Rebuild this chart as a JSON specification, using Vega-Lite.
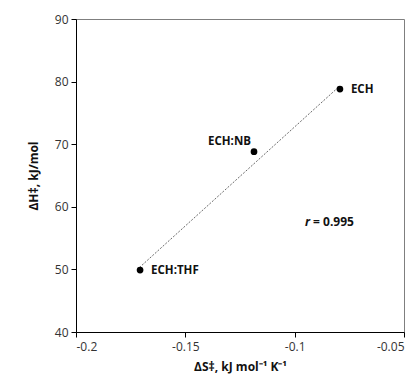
{
  "$schema": "https://vega.github.io/schema/vega-lite/v6.json",
  "width": 328,
  "height": 313,
  "autosize": "none",
  "padding": {"left": 76, "top": 19, "right": 16, "bottom": 51},
  "background": "white",
  "config": {
    "font": "Open Sans",
    "view": {"stroke": "#7f7f7f", "strokeWidth": 1},
    "axis": {"grid": false, "domainColor": "#000000", "tickColor": "#000000", "labelColor": "#333333", "labelFontSize": 12, "titleFontSize": 12, "titleColor": "#111111", "titleFontWeight": "bold", "tickSize": 5}
  },
  "datasets": {
    "pts": [
      {"dS": -0.0793, "dH": 78.8, "label": "ECH"},
      {"dS": -0.1186, "dH": 68.8, "label": "ECH:NB"},
      {"dS": -0.1707, "dH": 49.9, "label": "ECH:THF"}
    ],
    "fit": [
      {"dS": -0.1710, "dH": 50.3},
      {"dS": -0.0800, "dH": 79.1}
    ],
    "ann": [
      {"dS": -0.0925, "dH": 57.6}
    ]
  },
  "layer": [
    {
      "data": {"name": "fit"},
      "mark": {"type": "line", "color": "#595959", "strokeWidth": 0.9, "strokeDash": [2, 1.5]},
      "encoding": {
        "x": {"field": "dS", "type": "quantitative", "scale": {"domain": [-0.2, -0.05], "nice": false},
          "axis": {"values": [-0.2, -0.15, -0.1, -0.05], "labelExpr": "datum.value + ''", "title": "ΔS‡, kJ mol⁻¹ K⁻¹", "titlePadding": 9, "labelPadding": 4}},
        "y": {"field": "dH", "type": "quantitative", "scale": {"domain": [40, 90], "nice": false, "zero": false},
          "axis": {"values": [40, 50, 60, 70, 80, 90], "title": "ΔH‡, kJ/mol", "titlePadding": 14, "labelPadding": 3}}
      }
    },
    {
      "data": {"name": "pts"},
      "mark": {"type": "point", "filled": true, "color": "#000000", "size": 45, "opacity": 1},
      "encoding": {
        "x": {"field": "dS", "type": "quantitative"},
        "y": {"field": "dH", "type": "quantitative"}
      }
    },
    {
      "data": {"name": "pts"},
      "transform": [{"filter": "datum.label !== 'ECH:NB'"}],
      "mark": {"type": "text", "align": "left", "dx": 11, "dy": 1, "fontWeight": "bold", "fontSize": 11.5, "color": "#111111"},
      "encoding": {
        "x": {"field": "dS", "type": "quantitative"},
        "y": {"field": "dH", "type": "quantitative"},
        "text": {"field": "label"}
      }
    },
    {
      "data": {"name": "pts"},
      "transform": [{"filter": "datum.label === 'ECH:NB'"}],
      "mark": {"type": "text", "align": "right", "dx": -3, "dy": -10, "fontWeight": "bold", "fontSize": 11.5, "color": "#111111"},
      "encoding": {
        "x": {"field": "dS", "type": "quantitative"},
        "y": {"field": "dH", "type": "quantitative"},
        "text": {"field": "label"}
      }
    },
    {
      "data": {"name": "ann"},
      "mark": {"type": "text", "align": "right", "dx": -1, "fontWeight": "bold", "fontStyle": "italic", "fontSize": 12, "color": "#111111"},
      "encoding": {
        "x": {"field": "dS", "type": "quantitative"},
        "y": {"field": "dH", "type": "quantitative"},
        "text": {"value": "r"}
      }
    },
    {
      "data": {"name": "ann"},
      "mark": {"type": "text", "align": "left", "dx": 2, "fontWeight": "bold", "fontSize": 12, "color": "#111111"},
      "encoding": {
        "x": {"field": "dS", "type": "quantitative"},
        "y": {"field": "dH", "type": "quantitative"},
        "text": {"value": "= 0.995"}
      }
    }
  ]
}
